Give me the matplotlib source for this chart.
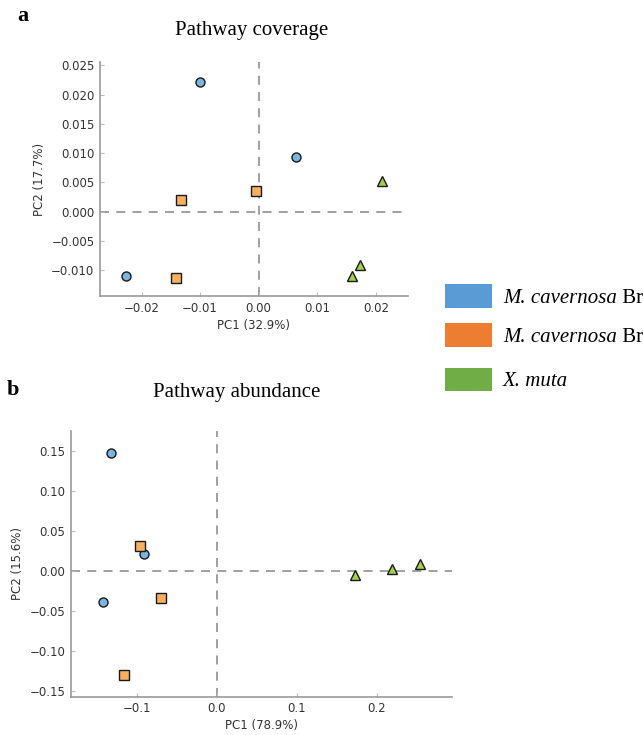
import matplotlib
matplotlib.use("Agg")
import matplotlib.pyplot as plt
from matplotlib.patches import Rectangle

# PCA scores
cov_blue_x = [-0.0100, 0.0063, -0.0226]
cov_blue_y = [0.0222, 0.0094, -0.0111]
cov_orange_x = [-0.0133, -0.0004, -0.0142]
cov_orange_y = [0.0020, 0.0036, -0.0113]
cov_green_x = [0.0211, 0.0173, 0.0160]
cov_green_y = [0.0052, -0.0091, -0.0111]

abu_blue_x = [-0.1325, -0.0913, -0.1420]
abu_blue_y = [0.147, 0.0213, -0.039]
abu_orange_x = [-0.0954, -0.0690, -0.1160]
abu_orange_y = [0.031, -0.034, -0.130]
abu_green_x = [0.1725, 0.2196, 0.2546]
abu_green_y = [-0.006, 0.002, 0.0084]

cov_xticks = [-0.02, -0.01, 0.00, 0.01, 0.02]
cov_yticks = [-0.010, -0.005, 0.000, 0.005, 0.010, 0.015, 0.020, 0.025]
abu_xticks = [-0.1, 0.0, 0.1, 0.2]
abu_yticks = [-0.15, -0.10, -0.05, 0.00, 0.05, 0.10, 0.15]

legend_italic = ["M. cavernosa", "M. cavernosa", "X. muta"]
legend_rest = [" Br", " Br", ""]
legend_colors = ["#5b9bd5", "#ed7d31", "#70ad47"]

marker_colors = ["#7ab4e0", "#f8b060", "#a0d04e"]
markers = ["o", "s", "^"]

serif = ["Liberation Serif", "DejaVu Serif"]

fig = plt.figure(figsize=(6.43, 7.35), dpi=100)


def style_axes(ax, xlabel, ylabel, xticks, yticks, xfmt, yfmt):
    ax.axhline(0, color="#999999", ls=(0, (5, 4)), lw=1.3, zorder=1)
    ax.axvline(0, color="#999999", ls=(0, (5, 4)), lw=1.3, zorder=1)
    for s in ["top", "right"]:
        ax.spines[s].set_visible(False)
    for s in ["left", "bottom"]:
        ax.spines[s].set_color("#999999")
        ax.spines[s].set_linewidth(1.2)
    ax.set_xticks(xticks)
    ax.set_yticks(yticks)
    ax.set_xticklabels([xfmt.format(v).replace("-", "\u2212") for v in xticks])
    ax.set_yticklabels([yfmt.format(v).replace("-", "\u2212") for v in yticks])
    ax.tick_params(direction="in", length=3, color="#bbbbbb", labelsize=8.5,
                   labelcolor="#333333", pad=4)
    ax.set_xlabel(xlabel, fontsize=8.5, color="#333333", labelpad=3)
    ax.set_ylabel(ylabel, fontsize=8.5, color="#333333", labelpad=4)


def draw_points(ax, xs, ys, ms):
    for x, y, c, m in zip(xs, ys, marker_colors, markers):
        ax.plot(x, y, ls="none", marker=m, ms=ms, mfc=c, mec="#1a1a1a",
                mew=1.0, zorder=3)


# panel a
ax1 = fig.add_axes([0.1555, 0.5973, 0.479, 0.3184])
style_axes(ax1, "PC1 (32.9%)", "PC2 (17.7%)", cov_xticks, cov_yticks,
           "{:.2f}", "{:.3f}")
draw_points(ax1, [cov_blue_x, cov_orange_x, cov_green_x],
            [cov_blue_y, cov_orange_y, cov_green_y], 6.5)
ax1.set_xlim(-0.0271, 0.0255)
ax1.set_ylim(-0.01444, 0.0256)

# panel b
ax2 = fig.add_axes([0.1104, 0.0521, 0.5925, 0.3615])
style_axes(ax2, "PC1 (78.9%)", "PC2 (15.6%)", abu_xticks, abu_yticks,
           "{:.1f}", "{:.2f}")
draw_points(ax2, [abu_blue_x, abu_orange_x, abu_green_x],
            [abu_blue_y, abu_orange_y, abu_green_y], 6.5)
ax2.set_xlim(-0.182, 0.294)
ax2.set_ylim(-0.1575, 0.1746)

# titles and panel letters
fig.text(252 / 643, 1 - 30 / 735, "Pathway coverage", family=serif,
         fontsize=15, ha="center", va="center")
fig.text(237 / 643, 1 - 393 / 735, "Pathway abundance", family=serif,
         fontsize=15, ha="center", va="center")
fig.text(17 / 643, 1 - 16 / 735, "a", family=serif, fontsize=16,
         fontweight="bold", ha="left", va="center")
fig.text(7 / 643, 1 - 390 / 735, "b", family=serif, fontsize=16,
         fontweight="bold", ha="left", va="center")

# legend
centers = [296, 335, 379.5]
fig.canvas.draw()
renderer = fig.canvas.get_renderer()
for yc, col, it, rest in zip(centers, legend_colors, legend_italic, legend_rest):
    fig.patches.append(Rectangle((445 / 643, 1 - (yc + 12) / 735), 47 / 643,
                                 24 / 735, transform=fig.transFigure,
                                 facecolor=col, edgecolor="none"))
    t = fig.text(503 / 643, 1 - yc / 735, it, family=serif, style="italic",
                 fontsize=15, ha="left", va="center_baseline")
    if rest:
        bb = t.get_window_extent(renderer)
        fig.text(bb.x1 / fig.bbox.width, 1 - yc / 735, rest, family=serif,
                 fontsize=15, ha="left", va="center_baseline")

fig.savefig("out.png", dpi=100)
